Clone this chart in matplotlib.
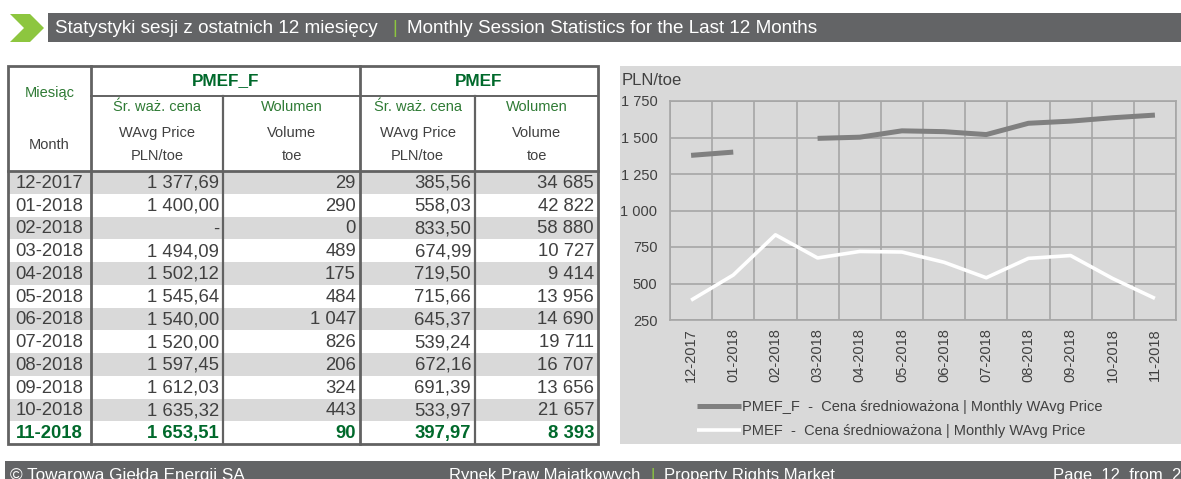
import numpy as np
import matplotlib
matplotlib.use("Agg")
import matplotlib.pyplot as plt
from matplotlib.patches import Rectangle, Polygon

plt.rcParams['font.family'] = ['Liberation Sans', 'DejaVu Sans']

# data
months = ["12-2017", "01-2018", "02-2018", "03-2018", "04-2018", "05-2018",
          "06-2018", "07-2018", "08-2018", "09-2018", "10-2018", "11-2018"]
pmef_f_price = [1377.69, 1400.00, np.nan, 1494.09, 1502.12, 1545.64,
                1540.00, 1520.00, 1597.45, 1612.03, 1635.32, 1653.51]
pmef_f_volume = [29, 290, 0, 489, 175, 484, 1047, 826, 206, 324, 443, 90]
pmef_price = [385.56, 558.03, 833.50, 674.99, 719.50, 715.66,
              645.37, 539.24, 672.16, 691.39, 533.97, 397.97]
pmef_volume = [34685, 42822, 58880, 10727, 9414, 13956,
               14690, 19711, 16707, 13656, 21657, 8393]
y_ticks = [250, 500, 750, 1000, 1250, 1500, 1750]

W, H = 1181, 479
DARK = "#636466"
LIME = "#8dc63f"
GREEN = "#2e7a34"
DGREEN = "#00692b"
TXT = "#404040"
BAND = "#d9d9d9"
LINE = "#626262"


def pl_num(v, dec):
    if v != v:
        return "-"
    s = f"{v:,.{dec}f}"
    return s.replace(",", " ").replace(".", ",")


fig = plt.figure(figsize=(W / 100, H / 100), dpi=100)
fig.patch.set_facecolor("white")

bg = fig.add_axes([0, 0, 1, 1])
bg.set_xlim(0, W)
bg.set_ylim(H, 0)
bg.axis("off")

# header bar
bg.add_patch(Polygon([(10, 14), (30, 14), (44, 28), (30, 42), (10, 42), (24, 28)],
                     closed=True, color=LIME, lw=0))
bg.add_patch(Rectangle((48, 13), W - 48, 29, color=DARK, lw=0))
bg.text(55, 28, "Statystyki sesji z ostatnich 12 miesięcy", color="white",
        fontsize=13.6, va="center")
bg.text(392, 28, "|", color=LIME, fontsize=13.6, va="center")
bg.text(407, 28, "Monthly Session Statistics for the Last 12 Months", color="white",
        fontsize=13.6, va="center")

# footer bar (text is cut by the page edge, as in the source)
bg.add_patch(Rectangle((5, 461), W - 5, 20, color=DARK, lw=0))
bg.text(10, 480, "© Towarowa Giełda Energii SA", color="white", fontsize=12.3, va="baseline")
bg.text(640, 480, "Rynek Praw Majątkowych", color="white", fontsize=12, va="baseline", ha="right")
bg.text(650, 480, "|", color=LIME, fontsize=12, va="baseline")
bg.text(664, 480, "Property Rights Market", color="white", fontsize=12, va="baseline")
bg.text(1053, 480, "Page  12  from  2", color="white", fontsize=12, va="baseline")

# table
cols = [8, 91, 223, 360, 475, 598]
top, mid, hdr_bot, bot = 66, 96, 171, 444
row_h = (bot - hdr_bot) / len(months)

for i in range(len(months)):
    y0 = hdr_bot + i * row_h
    if i % 2 == 0:
        bg.add_patch(Rectangle((cols[0], y0), cols[-1] - cols[0], row_h, color=BAND, lw=0))
    last = i == len(months) - 1
    kw = dict(fontsize=13.3, va="center", color=DGREEN if last else TXT,
              fontweight="bold" if last else "normal")
    yc = y0 + row_h / 2 + 1
    bg.text((cols[0] + cols[1]) / 2, yc, months[i], ha="center", **kw)
    vals = [pl_num(pmef_f_price[i], 2), pl_num(pmef_f_volume[i], 0),
            pl_num(pmef_price[i], 2), pl_num(pmef_volume[i], 0)]
    for j, s in enumerate(vals):
        bg.text(cols[j + 2] - 4, yc, s, ha="right", **kw)

# header texts
bg.text((cols[0] + cols[1]) / 2, 93, "Miesiąc", ha="center", va="center", color=GREEN, fontsize=10.5)
bg.text((cols[0] + cols[1]) / 2, 145, "Month", ha="center", va="center", color=TXT, fontsize=10.5)
bg.text((cols[1] + cols[3]) / 2, 81, "PMEF_F", ha="center", va="center", color=DGREEN,
        fontsize=12.3, fontweight="bold")
bg.text((cols[3] + cols[5]) / 2, 81, "PMEF", ha="center", va="center", color=DGREEN,
        fontsize=12.3, fontweight="bold")
sub = [("Śr. waż. cena", "WAvg Price", "PLN/toe"), ("Wolumen", "Volume", "toe")] * 2
for j, (a, b, c) in enumerate(sub):
    xc = (cols[j + 1] + cols[j + 2]) / 2
    bg.text(xc, 107, a, ha="center", va="center", color=GREEN, fontsize=10.5)
    bg.text(xc, 133, b, ha="center", va="center", color=TXT, fontsize=10.5)
    bg.text(xc, 156, c, ha="center", va="center", color=TXT, fontsize=10.5)

# table lines
bg.add_patch(Rectangle((cols[0], top), cols[-1] - cols[0], bot - top, fill=False,
                       ec=LINE, lw=2))
for x in cols[1:-1]:
    y_start = mid if x in (cols[2], cols[4]) else top
    bg.plot([x, x], [y_start, bot], color=LINE, lw=2 if x in (cols[1], cols[3]) else 1.6)
bg.plot([cols[1], cols[-1]], [mid, mid], color=LINE, lw=1.4)
bg.plot([cols[0], cols[-1]], [hdr_bot, hdr_bot], color=LINE, lw=2)

# chart panel
bg.add_patch(Rectangle((620, 66), W - 620, bot - 66, color=BAND, lw=0))
bg.text(622, 80, "PLN/toe", color=TXT, fontsize=12, va="center")

ax = fig.add_axes([670 / W, (H - 320) / H, 506 / W, 219 / H])
ax.set_facecolor(BAND)
x = np.arange(len(months))
ax.plot(x, pmef_f_price, color="#808080", lw=3.6, solid_capstyle="butt",
        label="PMEF_F  -  Cena średnioważona | Monthly WAvg Price")
ax.plot(x, pmef_price, color="white", lw=2.6, solid_capstyle="butt",
        label="PMEF  -  Cena średnioważona | Monthly WAvg Price")
ax.set_xlim(-0.5, len(months) - 0.5)
ax.set_ylim(y_ticks[0], y_ticks[-1])
ax.set_yticks(y_ticks)
ax.set_yticklabels([pl_num(v, 0) for v in y_ticks])
ax.set_xticks(x)
ax.set_xticklabels(months, rotation=90)
ax.set_xticks(np.arange(-0.5, len(months), 1), minor=True)
ax.grid(True, which="minor", axis="x", color="#a6a6a6", lw=1.2)
ax.grid(True, which="major", axis="y", color="#a6a6a6", lw=1.2)
ax.set_axisbelow(True)
ax.tick_params(which="both", length=0)
ax.tick_params(axis="y", pad=9, labelsize=10.5, labelcolor=TXT)
ax.tick_params(axis="x", pad=6, labelsize=10.5, labelcolor=TXT)
for s in ax.spines.values():
    s.set_color("#a6a6a6")
    s.set_linewidth(1.2)

leg = ax.legend(loc="center left", bbox_to_anchor=(697 / W, (H - 419) / H),
                bbox_transform=fig.transFigure, frameon=False, fontsize=10.5,
                handlelength=3.0, handletextpad=0.1, labelspacing=0.65,
                borderpad=0, borderaxespad=0)
for t in leg.get_texts():
    t.set_color(TXT)

fig.savefig("out.png", dpi=100)
